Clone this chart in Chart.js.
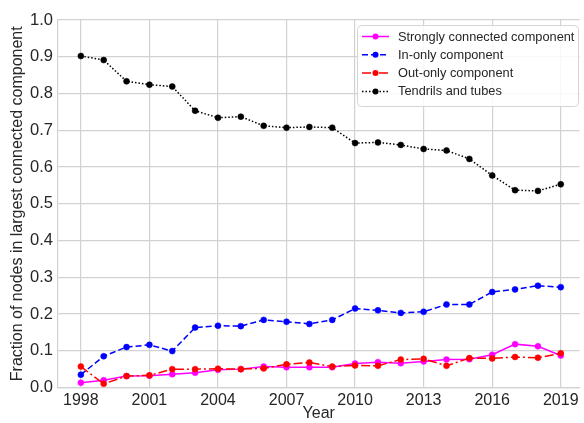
<!DOCTYPE html>
<html>
<head>
<meta charset="utf-8">
<script src="https://cdn.jsdelivr.net/npm/chart.js@4/dist/chart.umd.min.js"></script>
<style>
  html, body { margin: 0; padding: 0; background: #fff; overflow: hidden; }
  #wrap { width: 584px; height: 423px; }
</style>
</head>
<body>
<div id="wrap"><canvas id="chart" width="584" height="423"></canvas></div>
<script>
const years = [1998, 1999, 2000, 2001, 2002, 2003, 2004, 2005, 2006, 2007, 2008,
  2009, 2010, 2011, 2012, 2013, 2014, 2015, 2016, 2017, 2018, 2019];
const xTicks = [1998, 2001, 2004, 2007, 2010, 2013, 2016, 2019];

const scc = [0.013, 0.020, 0.031, 0.032, 0.036, 0.040, 0.048, 0.050, 0.057, 0.055, 0.055,
  0.055, 0.065, 0.069, 0.066, 0.071, 0.076, 0.077, 0.089, 0.118, 0.112, 0.087];
const inOnly = [0.035, 0.085, 0.110, 0.116, 0.099, 0.163, 0.168, 0.167, 0.184, 0.179, 0.173,
  0.184, 0.215, 0.210, 0.203, 0.206, 0.226, 0.226, 0.260, 0.267, 0.277, 0.273];
const outOnly = [0.057, 0.010, 0.031, 0.033, 0.050, 0.050, 0.051, 0.050, 0.052, 0.063, 0.068,
  0.057, 0.060, 0.059, 0.076, 0.078, 0.059, 0.080, 0.079, 0.083, 0.081, 0.093];
const tendrils = [0.902, 0.891, 0.833, 0.824, 0.819, 0.753, 0.734, 0.737, 0.712, 0.707, 0.709,
  0.707, 0.665, 0.667, 0.660, 0.649, 0.645, 0.622, 0.577, 0.537, 0.535, 0.553];

const textColor = '#262626';
const gridColor = '#d2d2d2';
const fontFamily = '"Liberation Sans", Arial, sans-serif';

function pts(values) {
  return values.map((v, i) => ({ x: years[i], y: v }));
}

function series(label, values, color, dash, order) {
  return {
    label: label,
    data: pts(values),
    borderColor: color,
    backgroundColor: color,
    borderWidth: 1.5,
    borderDash: dash,
    pointRadius: 3,
    pointBorderWidth: 0.5,
    pointBorderColor: color,
    pointBackgroundColor: color,
    tension: 0,
    order: order,
  };
}

// legend box drawn like the matplotlib one, from the dataset styles
const boxLegend = {
  id: 'boxLegend',
  afterDatasetsDraw(chart) {
    const ctx = chart.ctx;
    const x = 357, y = 25, w = 221, h = 81;
    ctx.save();
    ctx.beginPath();
    ctx.roundRect(x + 0.5, y + 0.5, w, h, 4);
    ctx.fillStyle = 'rgba(255,255,255,0.85)';
    ctx.fill();
    ctx.strokeStyle = '#d5d5d5';
    ctx.lineWidth = 1;
    ctx.stroke();

    ctx.font = '12.8px ' + fontFamily;
    ctx.textBaseline = 'middle';
    chart.data.datasets.forEach((ds, i) => {
      const rowY = 36.5 + i * 18.3;
      ctx.beginPath();
      ctx.setLineDash(ds.borderDash || []);
      ctx.strokeStyle = ds.borderColor;
      ctx.lineWidth = ds.borderWidth;
      ctx.moveTo(362, rowY);
      ctx.lineTo(389, rowY);
      ctx.stroke();
      ctx.setLineDash([]);
      ctx.beginPath();
      ctx.arc(375.5, rowY, 3, 0, Math.PI * 2);
      ctx.fillStyle = ds.pointBackgroundColor;
      ctx.fill();
      ctx.fillStyle = textColor;
      ctx.fillText(ds.label, 398, rowY + 0.5);
    });
    ctx.restore();
  }
};

new Chart(document.getElementById('chart'), {
  type: 'line',
  data: {
    datasets: [
      series('Strongly connected component', scc, '#ff00ff', [], 4),
      series('In-only component', inOnly, '#0000ff', [6, 3], 3),
      series('Out-only component', outOnly, '#ff0000', [9, 3, 2, 3], 2),
      series('Tendrils and tubes', tendrils, '#000000', [1.5, 2], 1),
    ],
  },
  options: {
    responsive: false,
    animation: false,
    layout: { padding: { top: 20, right: 0, left: 0, bottom: 0 } },
    plugins: {
      legend: { display: false },
      tooltip: { enabled: false },
    },
    scales: {
      x: {
        type: 'linear',
        min: 1997,
        max: 2019.82,
        afterBuildTicks: (axis) => { axis.ticks = xTicks.map(v => ({ value: v })); },
        afterFit: (axis) => { axis.height = 35.5; },
        grid: { color: gridColor, lineWidth: 1.2, drawTicks: false },
        border: { color: gridColor, width: 1.2 },
        ticks: {
          color: textColor,
          font: { family: fontFamily, size: 16 },
          padding: 3,
          maxRotation: 0,
          autoSkip: false,
          callback: (v) => String(v),
        },
        title: {
          display: true,
          text: 'Year',
          color: textColor,
          font: { family: fontFamily, size: 16 },
          padding: { top: 0, bottom: 0 },
        },
      },
      y: {
        min: 0,
        max: 1,
        afterFit: (axis) => { axis.width = 58; },
        grid: { color: gridColor, lineWidth: 1.2, drawTicks: false },
        border: { color: gridColor, width: 1.2 },
        ticks: {
          stepSize: 0.1,
          color: textColor,
          font: { family: fontFamily, size: 16.5 },
          padding: 5,
          callback: (v) => v.toFixed(1),
        },
        title: {
          display: true,
          text: 'Fraction of nodes in largest connected component',
          color: textColor,
          font: { family: fontFamily, size: 16 },
          padding: { top: 7.5, bottom: 0 },
        },
      },
    },
  },
  plugins: [boxLegend],
});
</script>
</body>
</html>
